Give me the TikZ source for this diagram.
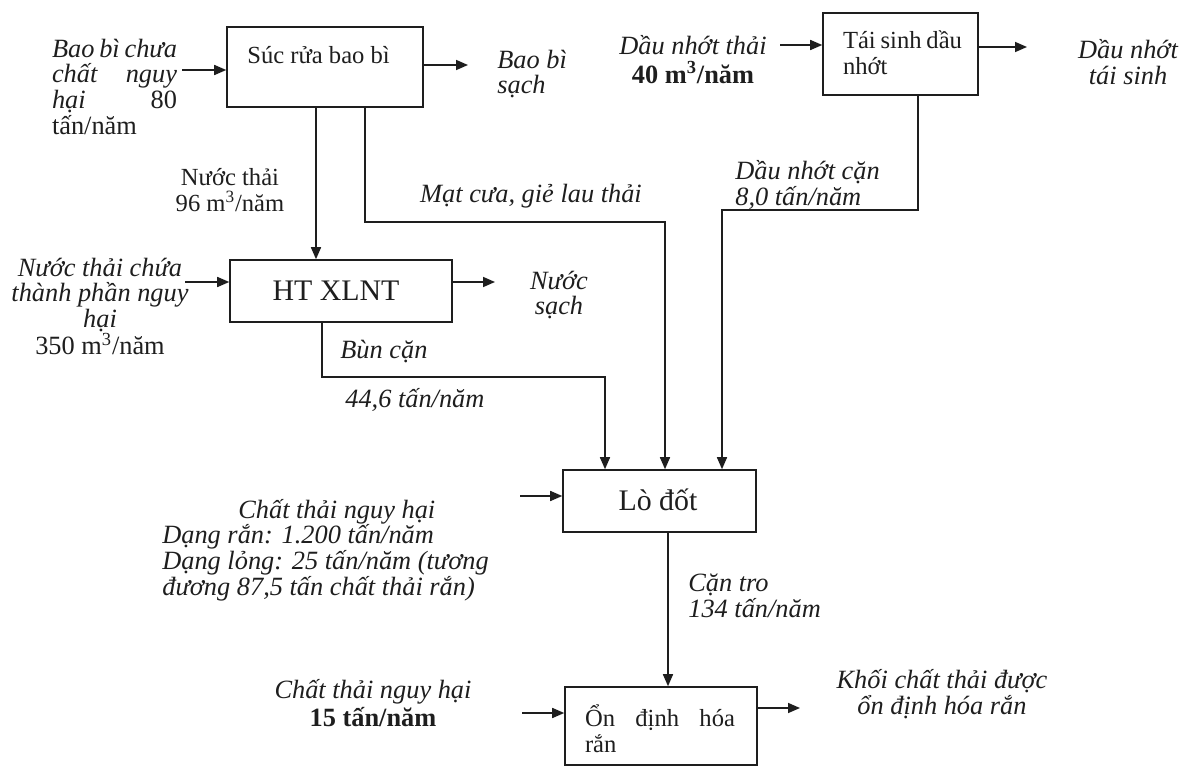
\documentclass[tikz,border=0pt]{standalone}
\usepackage{fontspec}
\setmainfont{Liberation Serif}
\usetikzlibrary{arrows.meta}
\definecolor{ink}{HTML}{1E1E1E}
\begin{document}
\begin{tikzpicture}[x=0.02cm,y=-0.02cm,
  every node/.style={inner sep=0pt, text=ink},
  lab/.style={font=\fontsize{14}{14.6}\selectfont},
  ilab/.style={font=\fontsize{15}{14.6}\selectfont\itshape},
  big/.style={font=\fontsize{17}{20}\selectfont},
  box/.style={draw=ink, line width=0.9pt, rectangle},
  arr/.style={draw=ink, line width=0.9pt, -{Triangle[length=2.4mm,width=2mm]}}]
\useasboundingbox[fill=white] (0,0) rectangle (1181,767);

% boxes
\node[box, minimum width=3.92cm, minimum height=1.6cm] (sr) at (325,67) {};
\node[box, minimum width=3.1cm, minimum height=1.64cm] (ts) at (900.5,54) {};
\node[box, minimum width=4.44cm, minimum height=1.24cm] (xl) at (341,291) {};
\node[box, minimum width=3.86cm, minimum height=1.24cm] (lo) at (659.5,501) {};
\node[box, minimum width=3.84cm, minimum height=1.56cm] (od) at (661,726) {};

% box texts
\node[lab, anchor=west] (srt) at (247,55) {Súc rửa bao bì};
\node[lab, text width=2.38cm, align=left] (tst) at (902.5,53) {Tái\hfill sinh\hfill dầu\\nhớt};
\node[big] (xlt) at (336,291) {HT XLNT};
\node[big] (lot) at (658,500) {Lò đốt};
\node[lab, text width=3cm, align=left] (odt) at (660,728.5) {Ổn\hfill định\hfill hóa\\rắn};

% labels
\node[ilab, text width=2.5cm, align=left] (lbb) at (114.5,86.5)
  {Bao\hfill bì\hfill chưa\\chất\hfill nguy\\hại\hfill{\upshape 80}\\{\upshape tấn/năm}};
\node[ilab, anchor=west, align=left] (lbs) at (497,74) {Bao bì\\sạch};
\node[ilab, align=center] (ldn) at (693,59.5) {Dầu nhớt thải\\[1.5pt]{\upshape\bfseries 40 m\textsuperscript{3}/năm}};
\node[ilab, align=center] (ldt) at (1128,62) {Dầu nhớt\\tái sinh};
\node[ilab, anchor=west, align=left] (ldc) at (735,185) {Dầu nhớt cặn\\8,0 tấn/năm};
\node[lab, align=center] (lnt) at (230,190) {Nước thải\\96 m\textsuperscript{3}/năm};
\node[ilab] (lmc) at (531,196) {Mạt cưa, giẻ lau thải};
\node[ilab, align=center] (lnc) at (100,306.5) {Nước thải chứa\\thành phần nguy\\hại\\{\upshape 350 m\textsuperscript{3}/năm}};
\node[ilab, align=center] (lns) at (559,295) {Nước\\sạch};
\node[ilab, anchor=west] (lbc) at (340,352) {Bùn cặn};
\node[ilab, anchor=west] (lbk) at (345,400) {44,6 tấn/năm};
\node[ilab, anchor=west, align=left] (lct) at (162,550)
  {\hspace*{1.52cm}Chất thải nguy hại\\Dạng rắn: 1.200 tấn/năm\\Dạng lỏng: 25 tấn/năm (tương\\đương 87,5 tấn chất thải rắn)};
\node[ilab, anchor=west, align=left] (lcr) at (688,596) {Cặn tro\\134 tấn/năm};
\node[ilab, align=center] (lc15) at (373,703) {Chất thải nguy hại\\[1.5pt]{\upshape\bfseries 15 tấn/năm}};
\node[ilab, align=center] (lkh) at (942,694) {Khối chất thải được\\ổn định hóa rắn};

% connectors
\coordinate (i1) at (182,70);
\draw[arr] (i1) -- (i1 -| sr.west);
\coordinate (o1) at (468,65);
\draw[arr] (o1 -| sr.east) -- (o1);
\coordinate (v1) at (316,0);
\draw[arr] (v1 |- sr.south) -- (v1 |- xl.north);
\coordinate (v2) at (365,0);
\coordinate (k2) at (665,222);
\draw[arr] (v2 |- sr.south) |- (k2) -- (k2 |- lo.north);
\coordinate (v3) at (918,0);
\coordinate (k3) at (722,210);
\draw[arr] (v3 |- ts.south) |- (k3) -- (k3 |- lo.north);
\coordinate (i2) at (780,45);
\draw[arr] (i2) -- (i2 -| ts.west);
\coordinate (o2) at (1027,47);
\draw[arr] (o2 -| ts.east) -- (o2);
\coordinate (i3) at (185,282);
\draw[arr] (i3) -- (i3 -| xl.west);
\coordinate (o3) at (495,282);
\draw[arr] (o3 -| xl.east) -- (o3);
\coordinate (v4) at (322,0);
\coordinate (k4) at (605,377);
\draw[arr] (v4 |- xl.south) |- (k4) -- (k4 |- lo.north);
\coordinate (i4) at (520,496);
\draw[arr] (i4) -- (i4 -| lo.west);
\coordinate (v5) at (668,0);
\draw[arr] (v5 |- lo.south) -- (v5 |- od.north);
\coordinate (i5) at (522,713);
\draw[arr] (i5) -- (i5 -| od.west);
\coordinate (o5) at (800,708);
\draw[arr] (o5 -| od.east) -- (o5);
\end{tikzpicture}
\end{document}
